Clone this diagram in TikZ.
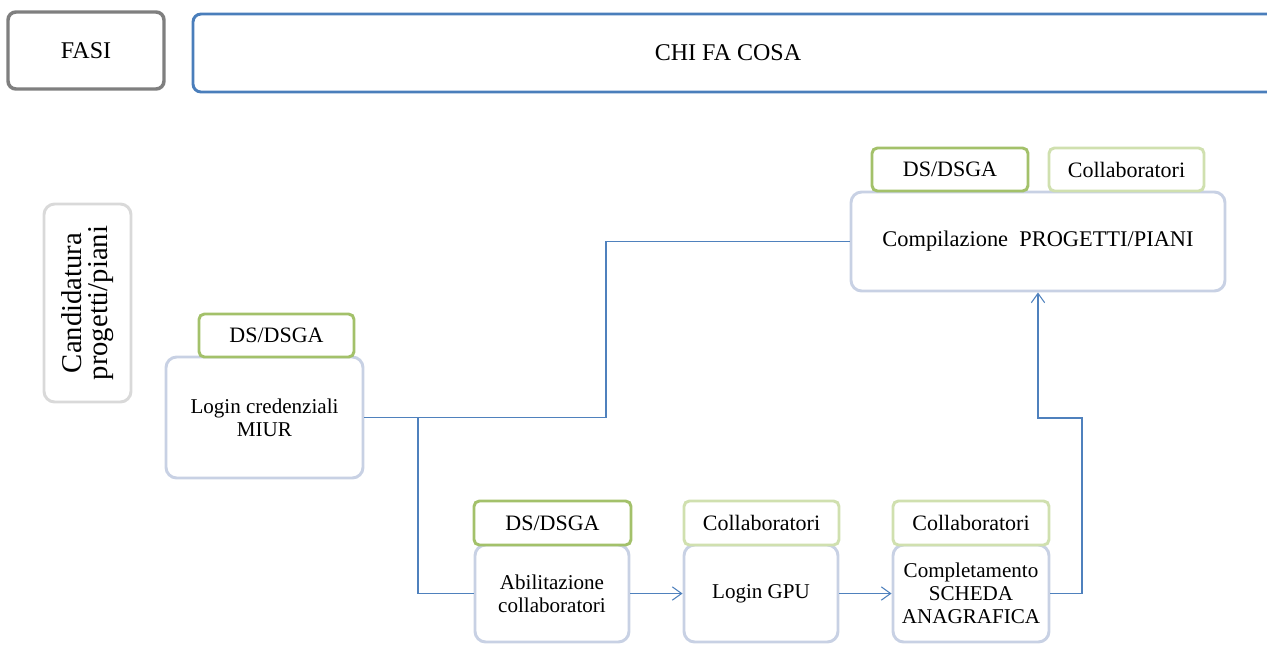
\documentclass[tikz,border=0pt]{standalone}
\usepackage{fontspec}
\setmainfont{Liberation Serif}
\newfontfamily\tnr{Liberation Serif}
\usetikzlibrary{arrows.meta}
\definecolor{gborder}{RGB}{127,127,127}
\definecolor{bborder}{RGB}{74,126,187}
\definecolor{lgray}{RGB}{217,217,217}
\definecolor{tagA}{RGB}{163,193,106}
\definecolor{tagB}{RGB}{208,224,175}
\definecolor{procborder}{RGB}{200,209,228}
\definecolor{lineblue}{RGB}{79,129,189}
\def\u{0.75pt}
\tikzset{
  txt/.style={font=\tnr\fontsize{16.5}{17.5}\selectfont, align=center, inner sep=0pt},
  ptxt/.style={font=\tnr\fontsize{15.8}{17.3}\selectfont},
  headbox/.style={txt, font=\tnr\fontsize{18}{20}\selectfont, draw, line width=2.6pt, rounded corners=6pt, fill=white},
  tagbox/.style={txt, draw, line width=2.2pt, rounded corners=4pt, fill=white},
  procbox/.style={txt, ptxt, draw=procborder, line width=2.2pt, rounded corners=8pt, fill=white},
  conn/.style={draw=lineblue, line width=0.8pt},
  arr/.style={conn, -{Straight Barb[length=7pt,width=10pt]}},
}
\begin{document}
\begin{tikzpicture}[x=0.75pt,y=-0.75pt]
\useasboundingbox (0,0) rectangle (1267,644);
\clip (0,0) rectangle (1267,644);
% headers
\node[headbox, draw=gborder, minimum width={156*\u}, minimum height={77*\u}] (fasi) at (86,50.5) {FASI};
\node[headbox, draw=bborder, line width=2.2pt, minimum width={1090*\u}, minimum height={78*\u}] (chi) at (738,53) {};
\node[txt, font=\tnr\fontsize{18}{20}\selectfont] (chit) at (728,53) {CHI FA COSA};
% phase
\node[procbox, draw=lgray, minimum width={87*\u}, minimum height={198*\u}] (cand) at (87.5,303) {};
\node[txt, font=\tnr\fontsize{21.5}{19}\selectfont, rotate=90] (candt) at (cand.center) {Candidatura\\progetti/piani};
% process boxes
\node[procbox, minimum width={197*\u}, minimum height={121*\u}] (login) at (264.5,417.5) {Login credenziali\\MIUR};
\node[procbox, font=\tnr\fontsize{16.8}{18}\selectfont, minimum width={374*\u}, minimum height={99*\u}] (comp) at (1038,241.5) {Compilazione~~PROGETTI/PIANI};
\node[procbox, minimum width={154*\u}, minimum height={97*\u}] (abil) at (552,593.5) {Abilitazione\\collaboratori};
\node[procbox, minimum width={154*\u}, minimum height={97*\u}] (gpu) at (761,593.5) {Login GPU};
\node[procbox, minimum width={156*\u}, minimum height={97*\u}] (compl) at (971,593.5) {Completamento\\SCHEDA\\ANAGRAFICA};
% tags
\node[tagbox, draw=tagA, minimum width={155*\u}, minimum height={43*\u}] (t1) at (276.5,335.5) {DS/DSGA};
\node[tagbox, draw=tagA, minimum width={156*\u}, minimum height={43*\u}] (t2) at (950,169.5) {DS/DSGA};
\node[tagbox, draw=tagB, minimum width={155*\u}, minimum height={43*\u}] (t3) at (1126.5,169.5) {Collaboratori};
\node[tagbox, draw=tagA, minimum width={157*\u}, minimum height={44*\u}] (t4) at (552.5,523) {DS/DSGA};
\node[tagbox, draw=tagB, minimum width={155*\u}, minimum height={44*\u}] (t5) at (761.5,523) {Collaboratori};
\node[tagbox, draw=tagB, minimum width={156*\u}, minimum height={44*\u}] (t6) at (971,523) {Collaboratori};
% connectors
\coordinate (j1) at (606,417.5);
\coordinate (j2) at (418,417.5);
\coordinate (j3) at (1082,593.5);
\coordinate (j4) at (1038,418);
\draw[conn] (login.east) -- (j1) |- (comp.west);
\draw[conn] (j2) |- (abil.west);
\draw[arr] (abil.east) -- (gpu.west);
\draw[arr] (gpu.east) -- (compl.west);
\draw[arr] (compl.east) -- (j3) |- (j4) -- (comp.south);
\end{tikzpicture}
\end{document}
